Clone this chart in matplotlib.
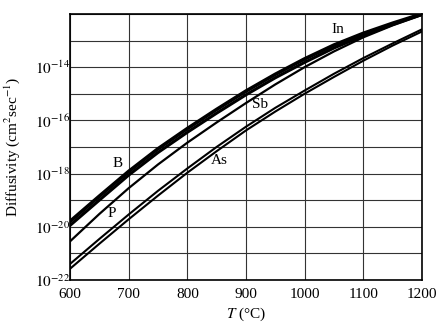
import numpy as np
import matplotlib
matplotlib.use("Agg")
import matplotlib.pyplot as plt
from matplotlib.ticker import FixedLocator, FuncFormatter

plt.rcParams["font.family"] = ["Liberation Serif", "DejaVu Serif"]
plt.rcParams["mathtext.fontset"] = "stix"

###########################################################################
# Data (log10 of diffusivity, cm^2/s)
###########################################################################

temps = [600, 650, 700, 750, 800, 850, 900, 950, 1000, 1050, 1100, 1150, 1200]

log_b = [-19.80, -18.85, -17.92, -17.07, -16.31, -15.59, -14.90,
         -14.27, -13.69, -13.17, -12.73, -12.35, -12.00]
log_in = [-19.95, -19.00, -18.06, -17.21, -16.45, -15.73, -15.04,
          -14.40, -13.82, -13.28, -12.82, -12.40, -12.02]
log_sb = [-20.55, -19.52, -18.55, -17.66, -16.84, -16.08, -15.35,
          -14.65, -14.00, -13.41, -12.88, -12.43, -12.04]
log_p = [-21.40, -20.46, -19.54, -18.65, -17.81, -17.00, -16.24,
         -15.53, -14.88, -14.25, -13.66, -13.11, -12.58]
log_as = [-21.58, -20.64, -19.72, -18.83, -17.97, -17.16, -16.38,
          -15.67, -15.00, -14.37, -13.76, -13.19, -12.66]

labels = ["B", "P", "As", "Sb", "In"]
label_t = [681, 672, 855, 924, 1057]
label_log = [-17.62, -19.49, -17.50, -15.42, -12.58]

###########################################################################
# Plot
###########################################################################

fig = plt.figure(figsize=(4.46, 3.24), dpi=100)
ax = fig.add_axes([0.157, 0.136, 0.789, 0.821])

t = np.array(temps)
ax.plot(t, 10.0 ** np.array(log_b), color="black", lw=2.6)
ax.plot(t, 10.0 ** np.array(log_in), color="black", lw=2.2)
ax.plot(t, 10.0 ** np.array(log_sb), color="black", lw=1.6)
ax.plot(t, 10.0 ** np.array(log_p), color="black", lw=1.5)
ax.plot(t, 10.0 ** np.array(log_as), color="black", lw=1.5)

for name, lt, ly in zip(labels, label_t, label_log):
    ax.text(lt, 10.0 ** ly, name, fontsize=11, ha="center", va="center")

ax.set_yscale("log")
ax.set_xlim(600, 1200)
ax.set_ylim(1e-22, 1e-12)

ax.xaxis.set_major_locator(FixedLocator(np.arange(600, 1201, 100)))
ax.yaxis.set_major_locator(FixedLocator([10.0 ** e for e in range(-22, -11)]))
ax.yaxis.set_minor_locator(FixedLocator([]))


def yfmt(v, pos):
    e = int(round(np.log10(v)))
    if e % 2 == 0 and e <= -14:
        return r"$10^{%d}$" % e
    return ""


ax.yaxis.set_major_formatter(FuncFormatter(yfmt))

ax.tick_params(axis="both", length=0, labelsize=11)
ax.tick_params(axis="y", pad=0)
ax.tick_params(axis="x", pad=6)

ax.grid(True, which="major", color="#333333", lw=0.8)
for s in ax.spines.values():
    s.set_linewidth(1.2)

ax.set_xlabel(r"$T$ (°C)", fontsize=11, labelpad=3)
ax.set_ylabel(r"Diffusivity (cm$^2$sec$^{-1}$)", fontsize=11, labelpad=9)

fig.savefig("out.png", dpi=100)
